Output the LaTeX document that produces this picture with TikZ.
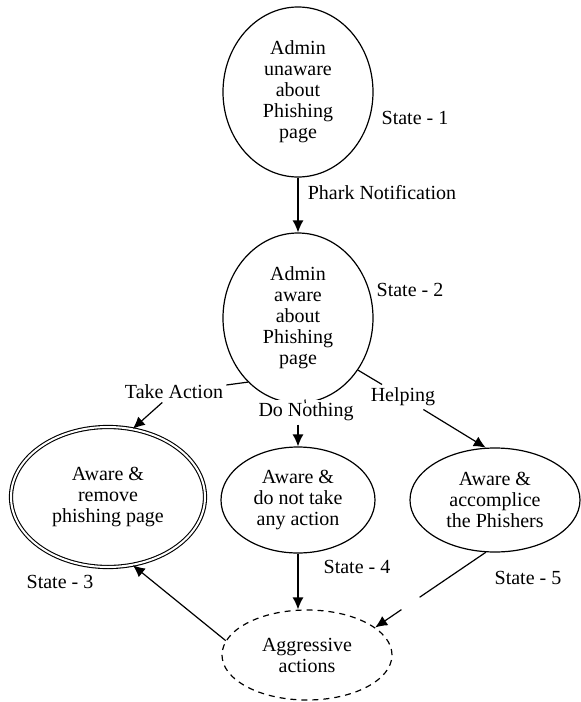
\documentclass[tikz,border=0pt]{standalone}
\usepackage{fontspec}
\setmainfont{Liberation Serif}
\usepackage{tikz}
\usetikzlibrary{shapes.geometric,arrows.meta}
\newcommand{\statetag}[3]{\node[tag] (#1) at (#2) {State - #3}}

\begin{document}
\begin{tikzpicture}[x=0.5pt,y=-0.5pt,
    font=\fontsize{10}{10.5}\selectfont,
    st/.style={ellipse,draw,line width=0.6pt,inner sep=0pt,align=center},
    lbl/.style={inner sep=1.5pt,fill=white},
    tag/.style={inner sep=0pt},
    >={Latex[length=6pt,width=5.5pt]}]
    \useasboundingbox (0,0) rectangle (581,702);

    \node[st,minimum width=75pt,minimum height=85pt] (s1) at (298,92) {Admin\\unaware\\about\\Phishing\\page};
    \node[st,minimum width=75pt,minimum height=85pt] (s2) at (298,318) {Admin\\aware\\about\\Phishing\\page};
    \node[st,double,double distance=1pt,line width=0.55pt,minimum width=97pt,minimum height=70pt] (s3) at (108,497) {Aware \&\\remove\\phishing page};
    \node[st,minimum width=77pt,minimum height=53pt] (s4) at (298,500) {Aware \&\\do not take\\any action};
    \node[st,minimum width=85pt,minimum height=52pt] (s5) at (495,500) {Aware \&\\accomplice\\the Phishers};
    \node[st,dash pattern=on 3pt off 2.5pt,minimum width=85pt,minimum height=45pt] (s6) at (307,655) {Aggressive\\actions};

    \statetag{t1}{415,118}{1};
    \statetag{t2}{410,290}{2};
    \statetag{t3}{60,582}{3};
    \statetag{t4}{357,567}{4};
    \statetag{t5}{528,578}{5};

    \node[tag] (phark) at (382,193) {Phark Notification};
    \node[lbl] (take) at (174,392) {Take Action};
    \node[lbl] (nothing) at (306,412) {Do Nothing};
    \node[lbl] (help) at (403,397) {Helping};

    \draw[line width=0.6pt,->] (s1) -- (s2);
    \draw[line width=0.6pt] (s2.232) -- (take);
    \draw[line width=0.6pt,->] (take) -- (s3.70);
    \draw[line width=0.6pt] (s2) -- (nothing);
    \draw[line width=0.6pt,->] (s4.north |- nothing.south) -- (s4.north);
    \draw[line width=0.6pt] (s2.319) -- (help);
    \draw[line width=0.6pt,->] (help) -- (s5.100);
    \draw[line width=0.6pt,->] (s4.south) -- (s4.south |- s6.north);
    \draw[line width=0.6pt,->,dash pattern=on 40pt off 11pt on 80pt off 0pt] (s5.260) -- (s6.22);
    \draw[line width=0.6pt,->] (s6.170) -- (s3.290);
\end{tikzpicture}
\end{document}
